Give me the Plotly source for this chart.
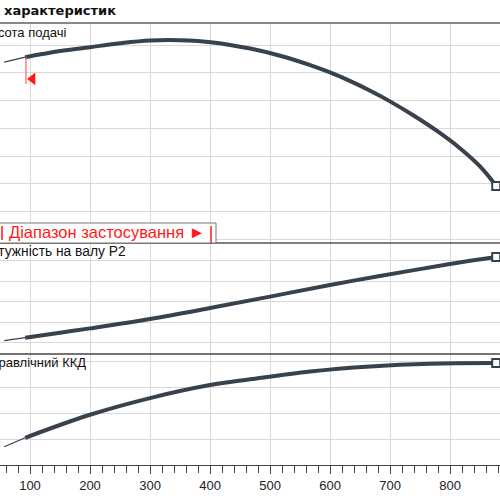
import plotly.graph_objects as go

# flow values (x) and the three characteristic curves
q_head = [57, 92, 150, 200, 250, 300, 350, 405, 467, 520, 567, 600, 633, 667, 700, 742, 783, 817, 850, 877]
head = [36.9, 37.81, 38.91, 39.61, 40.31, 40.81, 40.86, 40.47, 39.36, 37.98, 36.38, 35.06, 33.54, 31.77,
        29.86, 27.13, 24.18, 21.39, 18.16, 14.65]

q_power = [57, 92, 150, 200, 300, 400, 500, 600, 683, 800, 877]
power = [2.22, 2.51, 3.0, 3.42, 4.33, 5.40, 6.52, 7.66, 8.53, 9.70, 10.38]

q_eff = [57, 92, 200, 300, 400, 467, 567, 667, 767, 877]
eff = [14.0, 21.0, 38.9, 51.9, 62.0, 66.5, 72.6, 76.5, 78.6, 79.1]

q_min = 93.3          # start of the application range
range_label = "Діапазон застосування ►"
labels = ["Висота подачі", "Потужність на валу P2", "Гідравлічний ККД"]
title = "характеристик"
x_ticks = [100, 200, 300, 400, 500, 600, 700, 800]

CURVE = "#38424c"
GRID = "#d9d9d9"
RED = "#ff1a1a"

W, H = 500, 500
TOP, BOTTOM = 23, 465


def py(p):
    # pixel row -> paper coordinate
    return (BOTTOM - p) / (BOTTOM - TOP)


def split(xs, ys, x0):
    # thin part before the application range, thick part after it
    thin_x = [x for x in xs if x <= x0]
    thin_y = ys[:len(thin_x)]
    return (thin_x, thin_y), (xs[len(thin_x) - 1:], ys[len(thin_x) - 1:])


fig = go.Figure()

panels = [(q_head, head, "x3", "y3"), (q_power, power, "x2", "y2"), (q_eff, eff, "x", "y")]
for xs, ys, xa, ya in panels:
    (tx, ty), (kx, ky) = split(xs, ys, 92)
    fig.add_trace(go.Scatter(x=tx, y=ty, mode="lines", line=dict(color=CURVE, width=1.3),
                             xaxis=xa, yaxis=ya, showlegend=False, hoverinfo="skip"))
    fig.add_trace(go.Scatter(x=kx, y=ky, mode="lines", line=dict(color=CURVE, width=4, shape="spline"),
                             xaxis=xa, yaxis=ya, showlegend=False))
    fig.add_trace(go.Scatter(x=[xs[-1]], y=[ys[-1]], mode="markers",
                             marker=dict(symbol="square", size=8, color="white", line=dict(color=CURVE, width=2)),
                             xaxis=xa, yaxis=ya, showlegend=False))

# red start-of-range marker on the head curve
fig.add_trace(go.Scatter(x=[q_min + 11], y=[33.9], mode="markers",
                         marker=dict(symbol="triangle-left", size=11, color=RED),
                         xaxis="x3", yaxis="y3", showlegend=False))
fig.add_shape(type="line", xref="x3", yref="y3", x0=q_min, x1=q_min, y0=37.8, y1=33.0,
              line=dict(color="#ff6060", width=1.2))

xgrid = dict(range=[50, 883.3], tick0=0, dtick=100, showgrid=True, gridcolor=GRID, gridwidth=1.3,
             zeroline=False)
fig.update_layout(
    width=W, height=H,
    margin=dict(l=0, r=0, t=TOP, b=H - BOTTOM, autoexpand=False),
    paper_bgcolor="white", plot_bgcolor="white",
    font=dict(family="Liberation Sans, Arial", size=13, color="#222"),
    xaxis=dict(**xgrid, anchor="y", tickvals=x_ticks, ticks="outside", ticklen=8, tickcolor="#444",
               showline=True, linecolor="#444", linewidth=1.2,
               minor=dict(dtick=20, tick0=0, ticks="outside", ticklen=7, tickcolor="#444", showgrid=False),
               tickfont=dict(size=13, color="#222")),
    xaxis2=dict(**xgrid, anchor="y2", matches="x", showticklabels=False),
    xaxis3=dict(**xgrid, anchor="y3", matches="x", showticklabels=False),
    yaxis=dict(domain=[0, py(354)], range=[-0.2, 86.2], dtick=20, tick0=0, showgrid=True, gridcolor=GRID,
               gridwidth=1.3, showticklabels=False, zeroline=False),
    yaxis2=dict(domain=[py(354), py(242)], range=[0.92, 11.85], dtick=2, tick0=0, showgrid=True,
                gridcolor=GRID, gridwidth=1.3, showticklabels=False, zeroline=False),
    yaxis3=dict(domain=[py(242), 1], range=[4.56, 43.96], dtick=5, tick0=0, showgrid=True, gridcolor=GRID,
                gridwidth=1.3, showticklabels=False, zeroline=False),
)

# panel separators
fig.add_shape(type="line", xref="paper", yref="paper", x0=0, x1=1, y0=1, y1=1,
              line=dict(color="#888", width=2))
fig.add_shape(type="line", xref="paper", yref="paper", x0=0, x1=1, y0=py(243), y1=py(243),
              line=dict(color="#555", width=1.3))
fig.add_shape(type="line", xref="paper", yref="paper", x0=0, x1=1, y0=py(354), y1=py(354),
              line=dict(color="#444", width=1.3))

# application range box
fig.add_shape(type="rect", xref="paper", yref="paper", x0=-0.01, x1=216 / W, y0=py(243), y1=py(223),
              line=dict(color="#777", width=1), fillcolor="white")
fig.add_shape(type="line", xref="paper", yref="paper", x0=2 / W, x1=2 / W, y0=py(240), y1=py(226),
              line=dict(color=RED, width=1.5))
fig.add_shape(type="line", xref="paper", yref="paper", x0=211 / W, x1=211 / W, y0=py(243), y1=py(226),
              line=dict(color=RED, width=1.5))
fig.add_annotation(x=7 / W, y=py(232), xref="paper", yref="paper", text=range_label, showarrow=False,
                   xanchor="left", yanchor="middle", font=dict(size=16.5, color=RED))

# panel labels (left part cut off by the frame)
for text, right, row, size in zip(labels, [68, 128, 88], [32, 252, 363], [13, 13.8, 13]):
    fig.add_annotation(x=right / W, y=py(row), xref="paper", yref="paper", text=text, showarrow=False,
                       xanchor="right", yanchor="middle", font=dict(size=size, color="#111"))

fig.add_annotation(x=2 / W, y=py(10), xref="paper", yref="paper", text="<b>" + title + "</b>",
                   showarrow=False, xanchor="left", yanchor="middle",
                   font=dict(family="DejaVu Sans", size=13, color="#111"))

# drop the page's default body margin so the chart sits at the window corner
fig.write_html("out.html", config={"displayModeBar": False},
               post_script="document.body.style.margin='0';")
